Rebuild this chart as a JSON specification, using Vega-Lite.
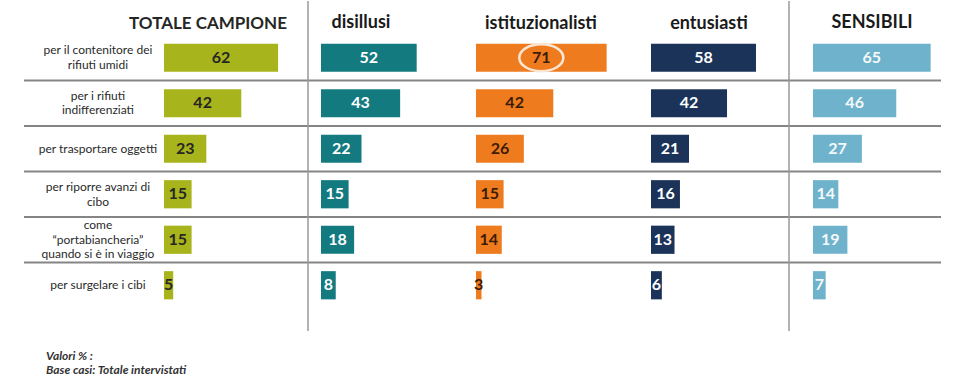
{
  "$schema": "https://vega.github.io/schema/vega-lite/v6.json",
  "padding": {"left": 23, "top": 0, "right": 5, "bottom": 5},
  "background": "white",
  "config": {"view": {"stroke": null}, "font": "Lato"},
  "spacing": 0,
  "bounds": "flush",
  "title": {"text": ["Valori % :", "Base casi: Totale intervistati"], "orient": "bottom", "anchor": "start", "frame": "group", "offset": 19, "dx": 22, "fontSize": 12, "font": "Lato", "fontStyle": "italic", "fontWeight": "bold", "color": "#333333", "lineHeight": 14, "baseline": "top"},
  "data": {"values": [
    {"gruppo": "TOTALE CAMPIONE", "ord": 1, "voce": "per il contenitore dei\nrifiuti umidi", "valore": 62},
    {"gruppo": "TOTALE CAMPIONE", "ord": 2, "voce": "per i rifiuti\nindifferenziati", "valore": 42},
    {"gruppo": "TOTALE CAMPIONE", "ord": 3, "voce": "per trasportare oggetti", "valore": 23},
    {"gruppo": "TOTALE CAMPIONE", "ord": 4, "voce": "per riporre avanzi di\ncibo", "valore": 15},
    {"gruppo": "TOTALE CAMPIONE", "ord": 5, "voce": "come\n“portabiancheria”\nquando si è in viaggio", "valore": 15},
    {"gruppo": "TOTALE CAMPIONE", "ord": 6, "voce": "per surgelare i cibi", "valore": 5},
    {"gruppo": "disillusi", "ord": 1, "voce": "per il contenitore dei\nrifiuti umidi", "valore": 52},
    {"gruppo": "disillusi", "ord": 2, "voce": "per i rifiuti\nindifferenziati", "valore": 43},
    {"gruppo": "disillusi", "ord": 3, "voce": "per trasportare oggetti", "valore": 22},
    {"gruppo": "disillusi", "ord": 4, "voce": "per riporre avanzi di\ncibo", "valore": 15},
    {"gruppo": "disillusi", "ord": 5, "voce": "come\n“portabiancheria”\nquando si è in viaggio", "valore": 18},
    {"gruppo": "disillusi", "ord": 6, "voce": "per surgelare i cibi", "valore": 8},
    {"gruppo": "istituzionalisti", "ord": 1, "voce": "per il contenitore dei\nrifiuti umidi", "valore": 71},
    {"gruppo": "istituzionalisti", "ord": 2, "voce": "per i rifiuti\nindifferenziati", "valore": 42},
    {"gruppo": "istituzionalisti", "ord": 3, "voce": "per trasportare oggetti", "valore": 26},
    {"gruppo": "istituzionalisti", "ord": 4, "voce": "per riporre avanzi di\ncibo", "valore": 15},
    {"gruppo": "istituzionalisti", "ord": 5, "voce": "come\n“portabiancheria”\nquando si è in viaggio", "valore": 14},
    {"gruppo": "istituzionalisti", "ord": 6, "voce": "per surgelare i cibi", "valore": 3},
    {"gruppo": "entusiasti", "ord": 1, "voce": "per il contenitore dei\nrifiuti umidi", "valore": 58},
    {"gruppo": "entusiasti", "ord": 2, "voce": "per i rifiuti\nindifferenziati", "valore": 42},
    {"gruppo": "entusiasti", "ord": 3, "voce": "per trasportare oggetti", "valore": 21},
    {"gruppo": "entusiasti", "ord": 4, "voce": "per riporre avanzi di\ncibo", "valore": 16},
    {"gruppo": "entusiasti", "ord": 5, "voce": "come\n“portabiancheria”\nquando si è in viaggio", "valore": 13},
    {"gruppo": "entusiasti", "ord": 6, "voce": "per surgelare i cibi", "valore": 6},
    {"gruppo": "SENSIBILI", "ord": 1, "voce": "per il contenitore dei\nrifiuti umidi", "valore": 65},
    {"gruppo": "SENSIBILI", "ord": 2, "voce": "per i rifiuti\nindifferenziati", "valore": 46},
    {"gruppo": "SENSIBILI", "ord": 3, "voce": "per trasportare oggetti", "valore": 27},
    {"gruppo": "SENSIBILI", "ord": 4, "voce": "per riporre avanzi di\ncibo", "valore": 14},
    {"gruppo": "SENSIBILI", "ord": 5, "voce": "come\n“portabiancheria”\nquando si è in viaggio", "valore": 19},
    {"gruppo": "SENSIBILI", "ord": 6, "voce": "per surgelare i cibi", "valore": 7}
  ]},
  "hconcat": [
    {
      "width": 284, "height": 330,
      "title": {"text": "TOTALE CAMPIONE", "frame": "group", "anchor": "middle", "dx": 42, "offset": -45, "baseline": "alphabetic", "fontSize": 17, "font": "Lato", "fontWeight": "bold", "color": "#262626"},
      "transform": [{"filter": "datum.gruppo === 'TOTALE CAMPIONE'"}],
      "layer": [
        {"transform": [{"filter": "datum.ord < 6"}], "mark": {"type": "rule", "color": "#858585", "strokeWidth": 2},
         "encoding": {"y": {"field": "ord", "type": "ordinal", "bandPosition": 1, "axis": null, "scale": {"type": "band", "paddingInner": 0, "paddingOuter": 0.626, "align": 0.5965}}}},
        {"transform": [{"filter": "length(split(datum.voce, '\\n')) == 1"}],
         "mark": {"type": "text", "align": "center", "baseline": "middle", "fontSize": 12, "lineHeight": 14.5, "lineBreak": "\n", "color": "#2a2a2a", "font": "Lato"},
         "encoding": {"y": {"field": "ord", "type": "ordinal", "axis": null}, "x": {"datum": -35.9, "type": "quantitative", "scale": {"domain": [-76.09, 78.26]}, "axis": null}, "text": {"field": "voce"}}},
        {"transform": [{"filter": "length(split(datum.voce, '\\n')) == 2"}],
         "mark": {"type": "text", "align": "center", "baseline": "middle", "dy": -7.25, "fontSize": 12, "lineHeight": 14.5, "lineBreak": "\n", "color": "#2a2a2a", "font": "Lato"},
         "encoding": {"y": {"field": "ord", "type": "ordinal", "axis": null}, "x": {"datum": -35.9, "type": "quantitative", "scale": {"domain": [-76.09, 78.26]}, "axis": null}, "text": {"field": "voce"}}},
        {"transform": [{"filter": "length(split(datum.voce, '\\n')) == 3"}],
         "mark": {"type": "text", "align": "center", "baseline": "middle", "dy": -14.5, "fontSize": 12, "lineHeight": 14.5, "lineBreak": "\n", "color": "#2a2a2a", "font": "Lato"},
         "encoding": {"y": {"field": "ord", "type": "ordinal", "axis": null}, "x": {"datum": -35.9, "type": "quantitative", "scale": {"domain": [-76.09, 78.26]}, "axis": null}, "text": {"field": "voce"}}},
        {"mark": {"type": "bar", "color": "#a8b41b", "height": {"band": 0.62}},
         "encoding": {"y": {"field": "ord", "type": "ordinal", "axis": null}, "x": {"field": "valore", "type": "quantitative", "scale": {"domain": [-76.09, 78.26]}, "axis": null}}},
        {"mark": {"type": "text", "align": "center", "baseline": "middle", "fontSize": 16, "fontWeight": "bold", "color": "#262626", "font": "Lato"},
         "encoding": {"y": {"field": "ord", "type": "ordinal", "axis": null}, "x": {"field": "valore", "type": "quantitative", "scale": {"domain": [-152.18, 156.52]}, "axis": null}, "text": {"field": "valore"}}}
      ],
      "resolve": {"scale": {"x": "independent"}}
    },
    {
      "width": 158, "height": 330,
      "title": {"text": "disillusi", "frame": "group", "anchor": "middle", "dx": -26, "offset": -46, "baseline": "alphabetic", "fontSize": 18, "font": "Lato", "fontWeight": "bold", "color": "#1a1a1a"},
      "transform": [{"filter": "datum.gruppo === 'disillusi'"}],
      "layer": [
        {"transform": [{"filter": "datum.ord < 6"}], "mark": {"type": "rule", "color": "#858585", "strokeWidth": 2},
         "encoding": {"y": {"field": "ord", "type": "ordinal", "bandPosition": 1, "axis": null, "scale": {"type": "band", "paddingInner": 0, "paddingOuter": 0.626, "align": 0.5965}}}},
        {"transform": [{"aggregate": [{"op": "count", "as": "n"}]}], "mark": {"type": "rule", "color": "#999999", "strokeWidth": 1.5},
         "encoding": {"x": {"datum": -7.07, "type": "quantitative", "scale": {"domain": [-7.07, 78.8]}, "axis": null}}},
        {"mark": {"type": "bar", "color": "#137a80", "height": {"band": 0.62}},
         "encoding": {"y": {"field": "ord", "type": "ordinal", "axis": null}, "x": {"field": "valore", "type": "quantitative", "scale": {"domain": [-7.07, 78.8]}, "axis": null}}},
        {"mark": {"type": "text", "align": "center", "baseline": "middle", "fontSize": 16, "fontWeight": "bold", "color": "#ffffff", "font": "Lato"},
         "encoding": {"y": {"field": "ord", "type": "ordinal", "axis": null}, "x": {"field": "valore", "type": "quantitative", "scale": {"domain": [-14.14, 157.6]}, "axis": null}, "text": {"field": "valore"}}}
      ],
      "resolve": {"scale": {"x": "independent"}}
    },
    {
      "width": 175, "height": 330,
      "title": {"text": "istituzionalisti", "frame": "group", "anchor": "middle", "dx": -12.5, "offset": -46, "baseline": "alphabetic", "fontSize": 18, "font": "Lato", "fontWeight": "bold", "color": "#1a1a1a"},
      "transform": [{"filter": "datum.gruppo === 'istituzionalisti'"}],
      "layer": [
        {"transform": [{"filter": "datum.ord < 6"}], "mark": {"type": "rule", "color": "#858585", "strokeWidth": 2},
         "encoding": {"y": {"field": "ord", "type": "ordinal", "bandPosition": 1, "axis": null, "scale": {"type": "band", "paddingInner": 0, "paddingOuter": 0.626, "align": 0.5965}}}},
        {"mark": {"type": "bar", "color": "#ef7b1f", "height": {"band": 0.62}},
         "encoding": {"y": {"field": "ord", "type": "ordinal", "axis": null}, "x": {"field": "valore", "type": "quantitative", "scale": {"domain": [-5.43, 89.67]}, "axis": null}}},
        {"transform": [{"filter": "datum.valore == 71"}], "mark": {"type": "point", "shape": "M-1.63,0A1.63,1,0,1,1,1.63,0A1.63,1,0,1,1,-1.63,0Z", "size": 729, "filled": false, "stroke": "#fbe6d3", "strokeWidth": 2.5, "opacity": 1},
         "encoding": {"y": {"field": "ord", "type": "ordinal", "axis": null}, "x": {"field": "valore", "type": "quantitative", "scale": {"domain": [-10.86, 179.34]}, "axis": null}}},
        {"mark": {"type": "text", "align": "center", "baseline": "middle", "fontSize": 16, "fontWeight": "bold", "color": "#3d1c05", "font": "Lato"},
         "encoding": {"y": {"field": "ord", "type": "ordinal", "axis": null}, "x": {"field": "valore", "type": "quantitative", "scale": {"domain": [-10.86, 179.34]}, "axis": null}, "text": {"field": "valore"}}}
      ],
      "resolve": {"scale": {"x": "independent"}}
    },
    {
      "width": 148, "height": 330,
      "title": {"text": "entusiasti", "frame": "group", "anchor": "middle", "dx": -6, "offset": -46, "baseline": "alphabetic", "fontSize": 18, "font": "Lato", "fontWeight": "bold", "color": "#1a1a1a"},
      "transform": [{"filter": "datum.gruppo === 'entusiasti'"}],
      "layer": [
        {"transform": [{"filter": "datum.ord < 6"}], "mark": {"type": "rule", "color": "#858585", "strokeWidth": 2},
         "encoding": {"y": {"field": "ord", "type": "ordinal", "bandPosition": 1, "axis": null, "scale": {"type": "band", "paddingInner": 0, "paddingOuter": 0.626, "align": 0.5965}}}},
        {"mark": {"type": "bar", "color": "#1b3359", "height": {"band": 0.62}},
         "encoding": {"y": {"field": "ord", "type": "ordinal", "axis": null}, "x": {"field": "valore", "type": "quantitative", "scale": {"domain": [-5.52, 76.24]}, "axis": null}}},
        {"mark": {"type": "text", "align": "center", "baseline": "middle", "fontSize": 16, "fontWeight": "bold", "color": "#ffffff", "font": "Lato"},
         "encoding": {"y": {"field": "ord", "type": "ordinal", "axis": null}, "x": {"field": "valore", "type": "quantitative", "scale": {"domain": [-11.04, 152.48]}, "axis": null}, "text": {"field": "valore"}}}
      ],
      "resolve": {"scale": {"x": "independent"}}
    },
    {
      "width": 152, "height": 330,
      "title": {"text": "SENSIBILI", "frame": "group", "anchor": "middle", "dx": 7, "offset": -46, "baseline": "alphabetic", "fontSize": 18, "font": "Lato", "fontWeight": "bold", "color": "#1a1a1a"},
      "transform": [{"filter": "datum.gruppo === 'SENSIBILI'"}],
      "layer": [
        {"transform": [{"filter": "datum.ord < 6"}], "mark": {"type": "rule", "color": "#858585", "strokeWidth": 2},
         "encoding": {"y": {"field": "ord", "type": "ordinal", "bandPosition": 1, "axis": null, "scale": {"type": "band", "paddingInner": 0, "paddingOuter": 0.626, "align": 0.5965}}}},
        {"transform": [{"aggregate": [{"op": "count", "as": "n"}]}], "mark": {"type": "rule", "color": "#999999", "strokeWidth": 1.5},
         "encoding": {"x": {"datum": -13.26, "type": "quantitative", "scale": {"domain": [-13.26, 70.72]}, "axis": null}}},
        {"mark": {"type": "bar", "color": "#6fb2cc", "height": {"band": 0.62}},
         "encoding": {"y": {"field": "ord", "type": "ordinal", "axis": null}, "x": {"field": "valore", "type": "quantitative", "scale": {"domain": [-13.26, 70.72]}, "axis": null}}},
        {"mark": {"type": "text", "align": "center", "baseline": "middle", "fontSize": 16, "fontWeight": "bold", "color": "#f4f9fb", "font": "Lato"},
         "encoding": {"y": {"field": "ord", "type": "ordinal", "axis": null}, "x": {"field": "valore", "type": "quantitative", "scale": {"domain": [-26.52, 141.44]}, "axis": null}, "text": {"field": "valore"}}}
      ],
      "resolve": {"scale": {"x": "independent"}}
    }
  ]
}
